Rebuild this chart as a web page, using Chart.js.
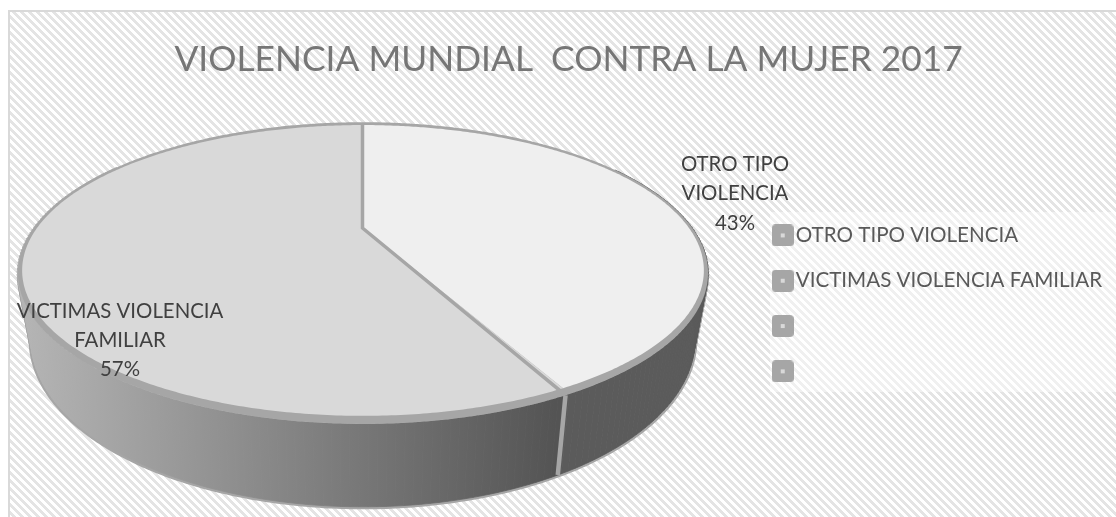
<!DOCTYPE html>
<html><head><meta charset="utf-8">
<style>html,body{margin:0;padding:0;background:#fff;overflow:hidden}canvas{display:block}</style>
<script src="https://cdn.jsdelivr.net/npm/chart.js@4"></script>
</head><body><canvas id="c" width="1116" height="517"></canvas>
<script>
const titleText = "VIOLENCIA MUNDIAL  CONTRA LA MUJER 2017";
const categories = ["OTRO TIPO VIOLENCIA", "VICTIMAS VIOLENCIA FAMILIAR", "", ""];
const values = [42.5, 57.5, 0, 0];
const faceColors = ["#efefef", "#d9d9d9", "#d0d0d0", "#c0c0c0"];
const labelLines = [["OTRO TIPO", "VIOLENCIA"], ["VICTIMAS VIOLENCIA", "FAMILIAR"]];

const k = 0.292;
const faceMap = {cx:363, cy:228, a:326, b:133};
const rimMap  = {cx:363, cy:229, a:330, b:138};
const baseMap = {cx:363, cy:291, a:317.4, b:152.8};
function proj(m, ang){
  const u = Math.cos(ang), v = Math.sin(ang), d = 1 - k*v;
  return [m.cx + m.a*u/d, m.cy + m.b*v/d];
}
function tracePts(ctx, m, a0, a1, move){
  const n = Math.max(2, Math.ceil(Math.abs(a1-a0)/0.01));
  for(let i=0;i<=n;i++){
    const p = proj(m, a0+(a1-a0)*i/n);
    if(i===0 && move) ctx.moveTo(p[0],p[1]); else ctx.lineTo(p[0],p[1]);
  }
}
// slices keep the library's angles; only their projection on the canvas is perspective
const Arc = Chart.registry.getElement('arc');
Arc.prototype.draw = function(ctx){
  if(this.circumference <= 0) return;
  const o = this.options;
  ctx.save();
  ctx.beginPath();
  ctx.moveTo(faceMap.cx, faceMap.cy);
  tracePts(ctx, faceMap, this.startAngle, this.endAngle, false);
  ctx.closePath();
  ctx.fillStyle = o.backgroundColor;
  ctx.fill();
  ctx.restore();
};
const hatch = document.createElement('canvas');
hatch.width = 8; hatch.height = 8;
(function(){const h = hatch.getContext('2d');
  h.fillStyle = '#fff'; h.fillRect(0,0,8,8);
  h.fillStyle = '#e4e4e4';
  for(let y=0;y<8;y++) for(let x=0;x<8;x++) if(((x-y)%8+8)%8<4) h.fillRect(x,y,1,1);
})();
const backdrop = {id:'backdrop', beforeDraw(ch){
  const ctx = ch.ctx;
  ctx.save();
  ctx.fillStyle = '#fff'; ctx.fillRect(0,0,1116,517);
  ctx.fillStyle = ctx.createPattern(hatch,'repeat');
  ctx.fillRect(9,11,1107,506);
  ctx.fillStyle = '#d9d9d9';
  ctx.fillRect(8,10,1108,2); ctx.fillRect(8,10,2,507);
  ctx.fillStyle = 'rgba(255,255,255,0.45)';
  ctx.fillRect(770,212,346,180);
  ctx.restore();
}};
const wall = {id:'wall', beforeDatasetsDraw(ch){
  const ctx = ch.ctx, arcs = ch.getDatasetMeta(0).data;
  ctx.save();
  ctx.strokeStyle = '#a6a6a6'; ctx.lineWidth = 5; ctx.lineJoin='round';
  ctx.beginPath(); tracePts(ctx, baseMap, 0, Math.PI*2, true); ctx.closePath(); ctx.stroke();
  ctx.lineWidth = 3;
  for(let a=-0.3;a<Math.PI+0.3;a+=0.02){
    ctx.beginPath();
    let p=proj(rimMap,a),q=proj(baseMap,a);
    ctx.moveTo(p[0],p[1]);ctx.lineTo(q[0],q[1]);ctx.stroke();
  }
  const grad = ctx.createLinearGradient(28,0,555,0);
  grad.addColorStop(0,'#b4b4b4'); grad.addColorStop(1,'#545454');
  const sideFills = ['#5b5b5b', grad];
  arcs.forEach((arc,i)=>{
    if(arc.circumference<=0) return;
    const st = 0.02, s0 = arc.startAngle, s1 = arc.endAngle;
    ctx.fillStyle = sideFills[i]; ctx.strokeStyle = sideFills[i]; ctx.lineWidth = 0.8;
    for(let a=s0;a<s1;a+=st){
      const b=Math.min(a+st,s1);
      if(Math.sin(a)<-0.5) continue;
      const p0=proj(rimMap,a),p1=proj(rimMap,b),q1=proj(baseMap,b),q0=proj(baseMap,a);
      ctx.beginPath();ctx.moveTo(p0[0],p0[1]);ctx.lineTo(p1[0],p1[1]);ctx.lineTo(q1[0],q1[1]);ctx.lineTo(q0[0],q0[1]);ctx.closePath();
      ctx.fill();ctx.stroke();
    }
  });
  ctx.strokeStyle='#a6a6a6'; ctx.lineWidth=4.5;
  arcs.forEach(arc=>{
    if(arc.circumference<=0) return;
    const a=arc.endAngle;
    if(Math.sin(a)>0){const p=proj(rimMap,a),q=proj(baseMap,a);
      ctx.beginPath();ctx.moveTo(p[0],p[1]);ctx.lineTo(q[0],q[1]);ctx.stroke();}
  });
  ctx.fillStyle='#a6a6a6';
  ctx.beginPath(); tracePts(ctx, rimMap, 0, Math.PI*2, true); ctx.closePath(); ctx.fill();
  ctx.restore();
}};
const LABEL_FONT = '20.4px Lato';
const overlay = {id:'overlay', afterDatasetsDraw(ch){
  const ctx = ch.ctx, arcs = ch.getDatasetMeta(0).data, c=[faceMap.cx,faceMap.cy];
  ctx.save();
  ctx.strokeStyle='#a6a6a6'; ctx.lineWidth=3.5; ctx.lineJoin='miter';
  const vis = arcs.filter(a=>a.circumference>0);
  const t = proj(faceMap, vis[0].startAngle), r = proj(rimMap, vis[0].endAngle);
  ctx.beginPath();ctx.moveTo(t[0]-.5,t[1]-2);ctx.lineTo(c[0]-.5,c[1]);ctx.lineTo(r[0],r[1]);ctx.stroke();
  const total = values.reduce((s,v)=>s+v,0);
  ctx.font = LABEL_FONT; ctx.textAlign='center'; ctx.textBaseline='middle'; ctx.fillStyle='#404040';
  const spots = [[735,[164,193,223]],[120,[311,340,369]]];
  labelLines.forEach((lines,i)=>{
    const txt = lines.concat([Math.round(values[i]/total*100)+'%']);
    txt.forEach((s,j)=>ctx.fillText(s,spots[i][0],spots[i][1][j]));
  });
  ctx.restore();
}};
function marker(){
  const m=document.createElement('canvas'); m.width=22;m.height=22;
  const g=m.getContext('2d');
  g.fillStyle='#a6a6a6'; g.beginPath(); g.roundRect(0,0,22,22,4); g.fill();
  g.fillStyle='#d9d9d9'; g.fillRect(9,9,4,4);
  return m;
}
const mk = marker();
new Chart(document.getElementById('c'),{
  type:'pie',
  plugins:[backdrop,wall,overlay],
  data:{labels:categories,datasets:[{data:values,backgroundColor:faceColors,borderColor:'#a6a6a6',borderWidth:0}]},
  options:{
    responsive:false,animation:false,
    layout:{padding:{right:3.8,top:0,bottom:0,left:25}},
    plugins:{
      tooltip:{enabled:false},
      title:{display:true,text:titleText,color:'#767676',font:{family:'Lato',size:35.35,weight:'400'},padding:{top:38,bottom:120}},
      legend:{position:'right',align:'start',fullSize:false,labels:{
        font:{family:'Lato',size:20.6},color:'#595959',usePointStyle:true,pointStyleWidth:5.4,padding:24.7,
        generateLabels(ch){return categories.map((t,i)=>({text:t,fillStyle:'#a6a6a6',pointStyle:mk,index:i,hidden:false,fontColor:'#595959'}));}
      }}
    }
  }
});
</script></body></html>
